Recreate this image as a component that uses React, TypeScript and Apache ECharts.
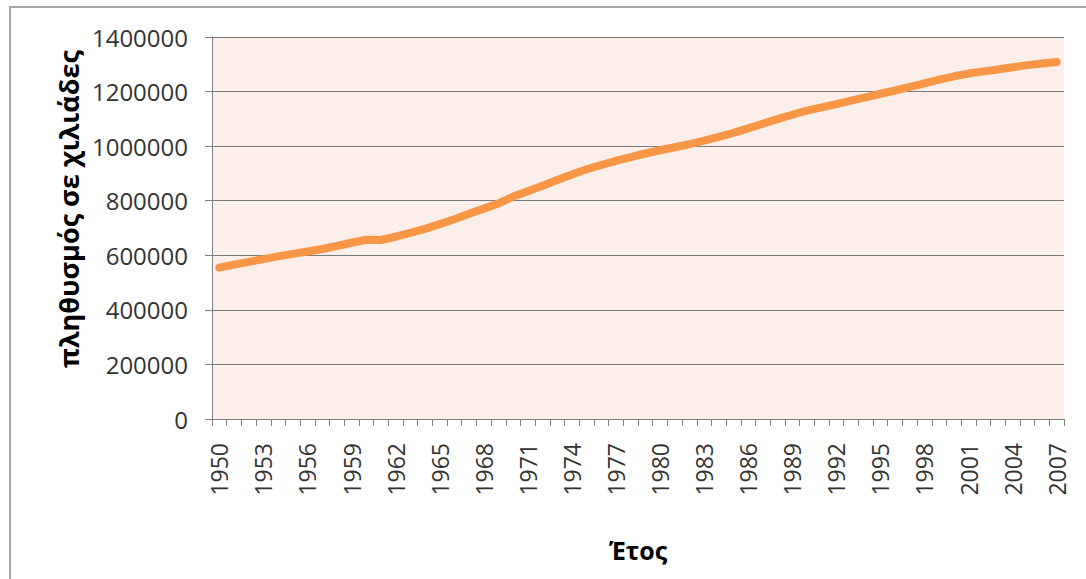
import React, { useEffect, useRef } from "react";
import * as echarts from "echarts";

const years: string[] = [];
for (let y = 1950; y <= 2007; y++) years.push(String(y));

const population: number[] = [
  555000, 566000, 576000, 586000, 596000, 605000, 614000, 623000, 634000, 646000,
  657000, 656000, 668000, 682000, 697000, 714000, 732000, 752000, 771000, 790000,
  815000, 835000, 855000, 876000, 896000, 915000, 931000, 946000, 960000, 973000,
  985000, 996000, 1007000, 1020000, 1034000, 1049000, 1065000, 1082000, 1099000, 1115000,
  1130000, 1142000, 1154000, 1167000, 1179000, 1192000, 1204000, 1217000, 1230000, 1244000,
  1256000, 1266000, 1274000, 1281000, 1289000, 1297000, 1303000, 1308000,
];

const yTitle = "πληθυσμός σε χιλιάδες";
const xTitle = "Έτος";

const FONT = "'Open Sans', 'Noto Sans', sans-serif";

export default function App() {
  const ref = useRef<HTMLDivElement>(null);
  useEffect(() => {
    if (!ref.current) return;
    const chart = echarts.init(ref.current, undefined, { renderer: "svg" });
    chart.setOption({
      animation: false,
      backgroundColor: "#ffffff",
      graphic: [
        {
          type: "rect",
          shape: { x: 10, y: 7, width: 1120, height: 620 },
          style: { fill: "none", stroke: "#a6a6a6", lineWidth: 2 },
          silent: true,
          z: -1,
        },
        {
          type: "text",
          x: 68,
          y: 209,
          rotation: Math.PI / 2,
          style: {
            text: yTitle,
            fontFamily: FONT,
            fontWeight: "bold",
            fontSize: 27,
            fill: "#000000",
            align: "center",
            verticalAlign: "middle",
          },
        },
      ],
      grid: {
        left: 212,
        right: 22,
        top: 37,
        bottom: 160,
        show: true,
        backgroundColor: "#fcefe9",
        borderWidth: 0,
      },
      xAxis: {
        type: "category",
        data: years,
        boundaryGap: true,
        name: xTitle,
        nameLocation: "middle",
        nameGap: 118,
        nameTextStyle: {
          fontFamily: FONT,
          fontWeight: "bold",
          fontSize: 25,
          color: "#000000",
        },
        axisLine: { show: true, lineStyle: { color: "#7f7f7f", width: 1 } },
        axisTick: {
          show: true,
          alignWithLabel: false,
          interval: 0,
          length: 7,
          lineStyle: { color: "#7f7f7f" },
        },
        axisLabel: {
          interval: 2,
          rotate: 90,
          margin: 24,
          fontFamily: FONT,
          fontSize: 23,
          color: "#333333",
        },
        splitLine: { show: false },
      },
      yAxis: {
        type: "value",
        min: 0,
        max: 1400000,
        interval: 200000,
        axisLine: { show: true, lineStyle: { color: "#7f7f7f", width: 1 } },
        axisTick: { show: true, length: 7, lineStyle: { color: "#7f7f7f" } },
        axisLabel: {
          margin: 24,
          fontFamily: FONT,
          fontSize: 24,
          color: "#333333",
          formatter: (v: number) => String(v),
        },
        splitLine: { show: true, lineStyle: { color: "#7a7a7a", width: 1 } },
      },
      series: [
        {
          type: "line",
          data: population,
          showSymbol: false,
          symbol: "none",
          lineStyle: { color: "#f79646", width: 8, cap: "round", join: "round" },
          itemStyle: { color: "#f79646" },
        },
      ],
    });
    return () => chart.dispose();
  }, []);
  return (
    <div
      ref={ref}
      style={{ position: "absolute", left: 0, top: 0, width: 1086, height: 579 }}
    />
  );
}
